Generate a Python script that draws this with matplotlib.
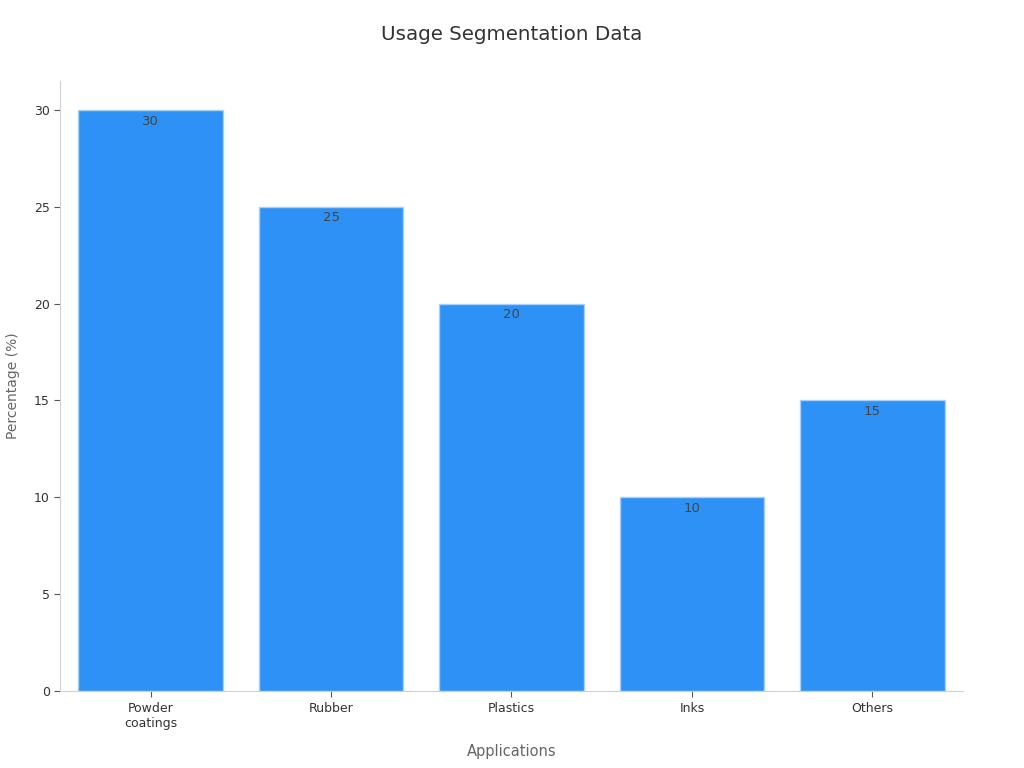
import matplotlib
matplotlib.use("Agg")
import matplotlib.pyplot as plt

categories = ["Powder\ncoatings", "Rubber", "Plastics", "Inks", "Others"]
values = [30, 25, 20, 10, 15]

fig, ax = plt.subplots(figsize=(10.24, 7.68), dpi=100)
fig.subplots_adjust(left=0.059, right=0.94, top=0.895, bottom=0.1)

x = range(len(categories))
bars = ax.bar(x, values, width=0.8, color="#2e91f6", edgecolor="#a9d0f8", linewidth=1)

# 値ラベルをバーの上端内側に
for rect, v in zip(bars, values):
    ax.text(rect.get_x() + rect.get_width() / 2, v - 0.25, str(v),
            ha="center", va="top", fontsize=9.5, color="#444444")

ax.set_xlim(-0.5, 4.5)
ax.set_ylim(0, 31.5)
ax.set_yticks([0, 5, 10, 15, 20, 25, 30])
ax.set_xticks(list(x))
ax.set_xticklabels(categories, fontsize=9, color="#333333")
ax.tick_params(axis="y", labelsize=9, labelcolor="#333333", color="#555555", length=4)
ax.tick_params(axis="x", color="#555555", length=4)

for side in ["top", "right"]:
    ax.spines[side].set_visible(False)
for side in ["left", "bottom"]:
    ax.spines[side].set_color("#d0d0d0")

ax.set_xlabel("Applications", fontsize=10.5, color="#666666", labelpad=10)
ax.set_ylabel("Percentage (%)", fontsize=10, color="#666666", labelpad=10)
fig.suptitle("Usage Segmentation Data", fontsize=14.3, color="#333333", x=0.5, y=0.968)

fig.savefig("out.png", dpi=100)
